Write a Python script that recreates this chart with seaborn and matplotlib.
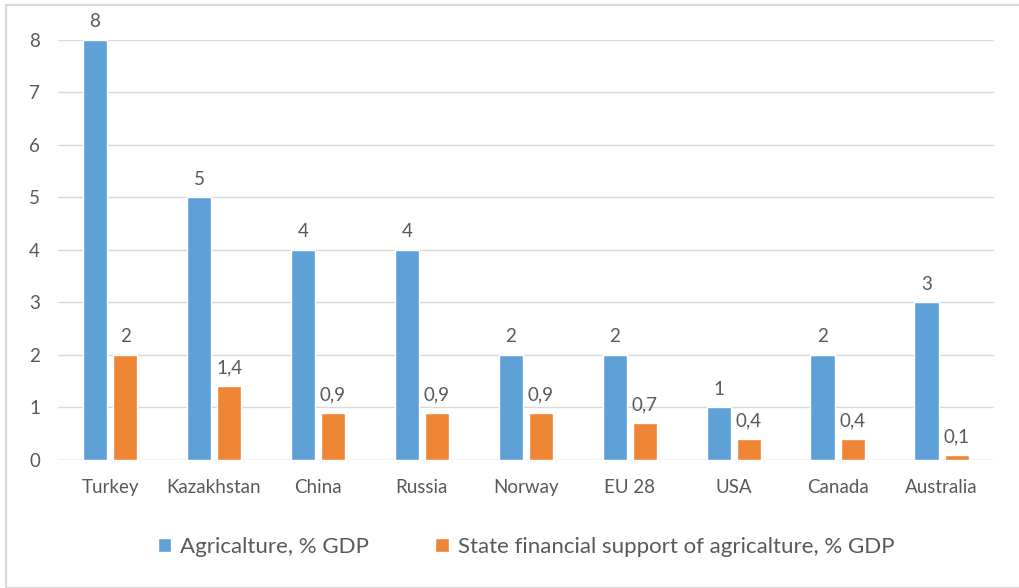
import matplotlib
matplotlib.use("Agg")
import matplotlib.pyplot as plt
from matplotlib.patches import Rectangle
import seaborn as sns
import pandas as pd

countries = ["Turkey", "Kazakhstan", "China", "Russia", "Norway", "EU 28", "USA", "Canada", "Australia"]
agriculture = [8, 5, 4, 4, 2, 2, 1, 2, 3]
state_support = [2, 1.4, 0.9, 0.9, 0.9, 0.7, 0.4, 0.4, 0.1]
series_names = ["Agricalture, % GDP", "State financial support of agricalture, % GDP"]
yticks = [0, 1, 2, 3, 4, 5, 6, 7, 8]

colors = ["#5FA0D9", "#EE8636"]
text_color = "#595959"
grid_color = "#D9D9D9"

df = pd.DataFrame({
    "country": countries * 2,
    "value": agriculture + state_support,
    "series": [series_names[0]] * len(countries) + [series_names[1]] * len(countries),
})

sns.set_theme(style="white")
plt.rcParams["font.family"] = ["Lato", "DejaVu Sans"]

fig = plt.figure(figsize=(10.19, 5.88), dpi=100)
ax = fig.add_axes([0.057, 0.2177, 0.918, 0.7143])

sns.barplot(data=df, x="country", y="value", hue="series", order=countries,
            hue_order=series_names, palette=colors, width=0.58, gap=0.2,
            saturation=1, ax=ax, legend=True, errorbar=None)

ax.set_ylim(0, 8)
ax.set_xlim(-0.5, len(countries) - 0.5)
ax.set_yticks(yticks)
ax.set_yticklabels([str(t) for t in yticks])
ax.yaxis.grid(True, color=grid_color, linewidth=1)
ax.set_axisbelow(True)
for s in ax.spines.values():
    s.set_visible(False)
ax.axhline(0, color=grid_color, linewidth=1, zorder=0.5)
ax.set_xlabel("")
ax.set_ylabel("")
ax.tick_params(axis="x", length=0, pad=14, labelsize=13.5, labelcolor=text_color)
ax.tick_params(axis="y", length=0, pad=13, labelsize=13.5, labelcolor=text_color)

def fmt(v):
    return ("%g" % v).replace(".", ",")

for container in ax.containers:
    labels = [fmt(b.get_height()) for b in container]
    ax.bar_label(container, labels=labels, padding=7, fontsize=13.5,
                 color=text_color, clip_on=False)

handles, labels = ax.get_legend_handles_labels()
ax.legend(handles, labels, loc="center", bbox_to_anchor=(0.5, -0.207),
          ncol=2, frameon=False, fontsize=16, labelcolor=text_color,
          handlelength=0.6, handleheight=0.6, handletextpad=0.4,
          columnspacing=3.0)

fig.patches.append(Rectangle((6 / 1019, 0.5 / 588), 1.2, 1 - 5 / 588,
                             transform=fig.transFigure, fill=False,
                             edgecolor="#D9D9D9", linewidth=1.5))

fig.savefig("out.png", dpi=100, facecolor="white")
